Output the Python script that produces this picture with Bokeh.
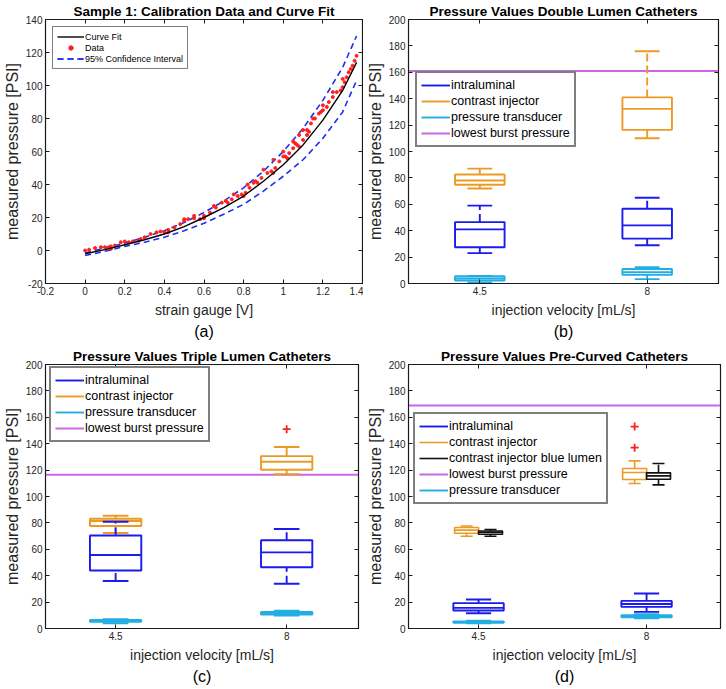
from bokeh.plotting import figure
from bokeh.layouts import column, row
from bokeh.models import (ColumnDataSource, FixedTicker, LinearAxis, Legend, LegendItem,
                          Range1d, Title, PrintfTickFormatter)
from bokeh.embed import file_html
from bokeh.resources import INLINE

FONT = "Liberation Sans"
TXT = "#262626"
BLUE = "#1b1bef"
ORANGE = "#eb9b25"
CYAN = "#22aee3"
MAGENTA = "#cc66e3"
RED = "#ff1f1f"
BLACK = "#111111"

# ---------------- Panel (a): calibration data ----------------
fit_x = [0.0, 0.1, 0.2, 0.3, 0.4, 0.5, 0.6, 0.7, 0.8, 0.9, 1.0, 1.1, 1.2, 1.3, 1.37]
fit_y = [-2, 0.5, 3.5, 6.5, 10, 14.5, 20, 26, 33, 42, 52, 64, 79, 97, 114]
ci_upper = [-1.5, 1.5, 4.5, 8, 12, 17, 23, 30, 38, 48, 60, 74, 91, 111, 130]
ci_lower = [-3, -0.5, 2.5, 5, 8, 12, 16.5, 22, 28, 36, 45, 55, 68, 84, 103]
data_x = [0.0, 0.02, 0.05, 0.08, 0.1, 0.12, 0.13, 0.13, 0.15, 0.18, 0.2, 0.22, 0.24, 0.27,
          0.28, 0.3, 0.33, 0.36, 0.38, 0.4, 0.42, 0.42, 0.45, 0.48, 0.5, 0.52, 0.55, 0.58,
          0.6, 0.6, 0.63, 0.66, 0.69, 0.71, 0.72, 0.74, 0.77, 0.79, 0.8, 0.81, 0.83, 0.85,
          0.86, 0.87, 0.89, 0.92, 0.94, 0.95, 0.96, 0.98, 1.0, 1.01, 1.02, 1.03, 1.05, 1.06,
          1.07, 1.08, 1.1, 1.12, 1.13, 1.12, 1.14, 1.16, 1.18, 1.19, 1.2, 1.22, 1.23, 1.25,
          1.27, 1.29, 1.3, 1.31, 1.32, 1.33, 1.34, 1.35, 1.36, 1.37,
          0.5, 0.55, 0.65, 0.75, 0.82, 0.9, 0.95, 1.0, 1.05, 1.08, 1.1, 1.15, 1.2, 1.25, 1.3]
data_y = [0, 0.5, 1.5, 2, 2, 2, 1, 2.5, 3, 5, 5.5, 5, 5.5, 6,
          7, 8, 10, 11, 11.5, 11, 11, 12.5, 14, 16, 18, 19, 19.5, 19,
          19.5, 21, 23, 26, 29, 30, 29, 31, 33, 34, 33, 35, 38, 41,
          42, 41, 44, 47, 48, 47, 50, 54, 57, 57, 56, 59, 62, 65,
          64, 63, 67, 70, 72, 73, 77, 80, 83, 84, 85, 87, 90, 93,
          96, 97, 99, 102, 105, 108, 110, 112, 115, 118,
          19, 21, 27, 34, 40, 49, 55, 60, 66, 70, 73, 80, 88, 96, 104]

# ---------------- Panels (b)-(d): box plots ----------------
velocities = ["4.5", "8"]
# [lower whisker, Q1, median, Q3, upper whisker] per injection velocity
double_intraluminal = [[23, 27.5, 41, 46.5, 59], [29, 34, 44, 56.6, 65]]
double_contrast = [[72, 74.8, 78, 82.6, 87], [110, 116.4, 132.3, 141, 176]]
double_transducer = [[0.8, 2.3, 3.8, 5.5, 5.8], [3.3, 6.6, 8.6, 11, 12.4]]
double_burst = 161

triple_intraluminal = [[36, 43.9, 55.7, 70.4, 80.9], [33.9, 46.4, 57.7, 66.9, 75.4]]
triple_contrast = [[72.4, 77.6, 81.4, 83.1, 85.4], [116.8, 120.3, 126.3, 130.6, 137.5]]
triple_contrast_outliers = [[], [151]]
triple_transducer = [[4, 5, 5.7, 6.5, 7], [9.8, 10.5, 11.5, 12.5, 13.5]]
triple_burst = 116.5

curved_intraluminal = [[11.6, 13.6, 15.6, 19.2, 22], [12.6, 16.4, 18.6, 20.9, 26.5]]
curved_contrast = [[69.9, 72.2, 74.5, 76.5, 77.7], [109.8, 112.9, 118.2, 121.2, 127]]
curved_contrast_outliers = [[], [137, 153]]
curved_contrast_blue = [[69.9, 71.4, 72.9, 73.9, 75], [108.8, 113.1, 115.6, 117.9, 125]]
curved_transducer = [[4, 4.4, 4.8, 5.3, 6], [7.8, 8.5, 9.3, 10, 10.8]]
curved_burst = 169


def make_fig(width, height, left, right, top, bottom, xr, yr, title, caption, xlabel,
             xticks, yticks, xfmt=None):
    p = figure(width=width, height=height, x_range=xr, y_range=yr,
               output_backend="svg", toolbar_location=None,
               min_border_left=left, min_border_right=right,
               min_border_top=top, min_border_bottom=bottom)
    p.background_fill_color = "white"
    p.border_fill_color = "white"
    p.outline_line_color = "#1a1a1a"
    p.outline_line_width = 1.2
    p.xgrid.visible = False
    p.ygrid.visible = False
    p.title.text = title
    p.title.align = "center"
    p.title.text_font = FONT
    p.title.text_font_size = "13.5px"
    p.title.text_font_style = "bold"
    p.title.text_color = "black"
    p.title.standoff = 1
    p.title.offset = 0
    for ax, ticks in ((p.xaxis[0], xticks), (p.yaxis[0], yticks)):
        ax.ticker = FixedTicker(ticks=ticks)
        ax.minor_tick_line_color = None
        ax.major_tick_in = 4
        ax.major_tick_out = 0
        ax.major_label_standoff = 3
        ax.axis_line_color = "#1a1a1a"
        ax.major_tick_line_color = "#1a1a1a"
        ax.major_label_text_font = FONT
        ax.major_label_text_font_size = "10px"
        ax.major_label_text_color = TXT
        ax.axis_label_text_font = FONT
        ax.axis_label_text_font_style = "normal"
        ax.axis_label_text_color = TXT
        ax.axis_label_standoff = 2
    p.xaxis[0].axis_label = xlabel
    p.xaxis[0].axis_label_text_font_size = "14px"
    p.xaxis[0].axis_label_standoff = 4
    p.yaxis[0].axis_label = "measured pressure [PSI]"
    p.yaxis[0].axis_label_text_font_size = "16px"
    p.yaxis[0].formatter = PrintfTickFormatter(format="%g")
    if xfmt is None:
        p.xaxis[0].formatter = PrintfTickFormatter(format="%g")
    else:
        p.xaxis[0].major_label_overrides = xfmt
    # box ticks on top and right (labels not drawn)
    for loc, ticks in (("above", xticks), ("right", yticks)):
        a = LinearAxis(ticker=FixedTicker(ticks=ticks), major_tick_in=4, major_tick_out=0,
                       minor_tick_line_color=None, major_label_text_font_size="1px",
                       major_label_text_color=None,
                       major_label_standoff=0, axis_line_color="#1a1a1a",
                       major_tick_line_color="#1a1a1a")
        p.add_layout(a, loc)
    cap = Title(text=caption, align="center", text_font=FONT, text_font_size="16px",
                text_font_style="normal", text_color="black", standoff=1)
    p.add_layout(cap, "below")
    return p


def style_legend(p, items, location, font_size, row_h, border_w, glyph_w):
    lg = Legend(items=items, location=location)
    lg.label_text_font = FONT
    lg.label_text_font_size = font_size
    lg.label_text_color = "black"
    lg.label_height = row_h
    lg.glyph_height = row_h
    lg.glyph_width = glyph_w
    lg.label_standoff = 1
    lg.spacing = 0
    lg.padding = 4
    lg.margin = 0
    lg.border_line_color = "black"
    lg.border_line_width = border_w
    lg.background_fill_color = "white"
    lg.background_fill_alpha = 1
    p.add_layout(lg)


def box_group(p, stats, centers, width, color, lw=1.9):
    src = ColumnDataSource(dict(
        x=centers,
        left=[c - width / 2 for c in centers], right=[c + width / 2 for c in centers],
        cl=[c - width / 4 for c in centers], cr=[c + width / 4 for c in centers],
        lo=[s[0] for s in stats], q1=[s[1] for s in stats], med=[s[2] for s in stats],
        q3=[s[3] for s in stats], hi=[s[4] for s in stats]))
    p.segment(x0="x", y0="q3", x1="x", y1="hi", source=src, line_color=color,
              line_width=lw, line_dash="8 4")
    p.segment(x0="x", y0="lo", x1="x", y1="q1", source=src, line_color=color,
              line_width=lw, line_dash="8 4")
    p.quad(left="left", right="right", bottom="q1", top="q3", source=src,
           fill_alpha=0, line_color=color, line_width=lw)
    p.segment(x0="left", y0="med", x1="right", y1="med", source=src, line_color=color,
              line_width=lw)
    caps = p.segment(x0="cl", y0="hi", x1="cr", y1="hi", source=src, line_color=color,
                     line_width=lw)
    p.segment(x0="cl", y0="lo", x1="cr", y1="lo", source=src, line_color=color,
              line_width=lw)
    return caps


def outliers(p, values, centers):
    xs, ys = [], []
    for c, vals in zip(centers, values):
        for v in vals:
            xs.append(c)
            ys.append(v)
    p.scatter(xs, ys, marker="cross", size=8, line_color=RED, line_width=1.8)


def burst_line(p, xr, level):
    return p.segment(x0=[xr.start], x1=[xr.end], y0=[level], y1=[level],
                     line_color=MAGENTA, line_width=2)


pos = [i + 1 for i in range(len(velocities))]
vel_labels = {p_: v for p_, v in zip(pos, velocities)}
y_ticks = list(range(0, 201, 20))

# ---------------- (a) ----------------
xa = Range1d(-0.2, 1.4)
ya = Range1d(-20, 140)
pa = make_fig(363, 345, 40, 1, 16, 62, xa, ya,
              "Sample 1: Calibration Data and Curve Fit", "(a)", "strain gauge [V]",
              [-0.2, 0, 0.2, 0.4, 0.6, 0.8, 1.0, 1.2, 1.4], list(range(-20, 141, 20)))
r_up = pa.line(fit_x, ci_upper, line_color="#1f2ff0", line_width=1.6, line_dash="6 4")
r_lo = pa.line(fit_x, ci_lower, line_color="#1f2ff0", line_width=1.6, line_dash="6 4")
r_data = pa.scatter(data_x, data_y, marker="circle", size=3, fill_color=RED,
                    line_color=RED)
r_fit = pa.line(fit_x, fit_y, line_color="black", line_width=1.4)
style_legend(pa, [LegendItem(label="Curve Fit", renderers=[r_fit]),
                  LegendItem(label="Data", renderers=[r_data]),
                  LegendItem(label="95% Confidence Interval", renderers=[r_up, r_lo])],
             (7, 214), "9px", 11, 1.2, 27)

# ---------------- (b) ----------------
xb = Range1d(0.574, 2.426)
yb = Range1d(0, 200)
pb = make_fig(363, 345, 40, 8, 19, 62, xb, yb,
              "Pressure Values Double Lumen Catheters", "(b)", "injection velocity [mL/s]",
              pos, y_ticks, vel_labels)
rb_burst = burst_line(pb, xb, double_burst)
rb_t = box_group(pb, double_transducer, pos, 0.296, CYAN)
rb_c = box_group(pb, double_contrast, pos, 0.296, ORANGE)
rb_i = box_group(pb, double_intraluminal, pos, 0.296, BLUE)
style_legend(pb, [LegendItem(label="intraluminal", renderers=[rb_i]),
                  LegendItem(label="contrast injector", renderers=[rb_c]),
                  LegendItem(label="pressure transducer", renderers=[rb_t]),
                  LegendItem(label="lowest burst pressure", renderers=[rb_burst])],
             (7, 136), "12.5px", 16, 2, 29)

# ---------------- (c) ----------------
xc = Range1d(0.59, 2.42)
yc = Range1d(0, 200)
pc = make_fig(363, 344, 43, 5, 17, 60, xc, yc,
              "Pressure Values Triple Lumen Catheters", "(c)", "injection velocity [mL/s]",
              pos, y_ticks, vel_labels)
rc_burst = burst_line(pc, xc, triple_burst)
rc_t = box_group(pc, triple_transducer, pos, 0.30, CYAN)
rc_c = box_group(pc, triple_contrast, pos, 0.30, ORANGE)
rc_i = box_group(pc, triple_intraluminal, pos, 0.30, BLUE)
outliers(pc, triple_contrast_outliers, pos)
style_legend(pc, [LegendItem(label="intraluminal", renderers=[rc_i]),
                  LegendItem(label="contrast injector", renderers=[rc_c]),
                  LegendItem(label="pressure transducer", renderers=[rc_t]),
                  LegendItem(label="lowest burst pressure", renderers=[rc_burst])],
             (4, 186), "12.5px", 16, 2, 29)

# ---------------- (d) ----------------
xd = Range1d(0.583, 2.44)
yd = Range1d(0, 200)
pd = make_fig(363, 344, 43, 6, 19, 61, xd, yd,
              "Pressure Values Pre-Curved Catheters", "(d)", "injection velocity [mL/s]",
              pos, y_ticks, vel_labels)
rd_burst = burst_line(pd, xd, curved_burst)
rd_t = box_group(pd, curved_transducer, pos, 0.30, CYAN)
rd_i = box_group(pd, curved_intraluminal, pos, 0.30, BLUE)
left_pos = [c - 0.071 for c in pos]
right_pos = [c + 0.071 for c in pos]
rd_c = box_group(pd, curved_contrast, left_pos, 0.143, ORANGE, lw=1.6)
rd_k = box_group(pd, curved_contrast_blue, right_pos, 0.143, BLACK, lw=1.6)
outliers(pd, curved_contrast_outliers, left_pos)
style_legend(pd, [LegendItem(label="intraluminal", renderers=[rd_i]),
                  LegendItem(label="contrast injector", renderers=[rd_c]),
                  LegendItem(label="contrast injector blue lumen", renderers=[rd_k]),
                  LegendItem(label="lowest burst pressure", renderers=[rd_burst]),
                  LegendItem(label="pressure transducer", renderers=[rd_t])],
             (5, 124), "12.5px", 16, 2, 29)

layout = column(row(pa, pb), row(pc, pd))
open("out.html", "w").write(file_html(layout, INLINE))
